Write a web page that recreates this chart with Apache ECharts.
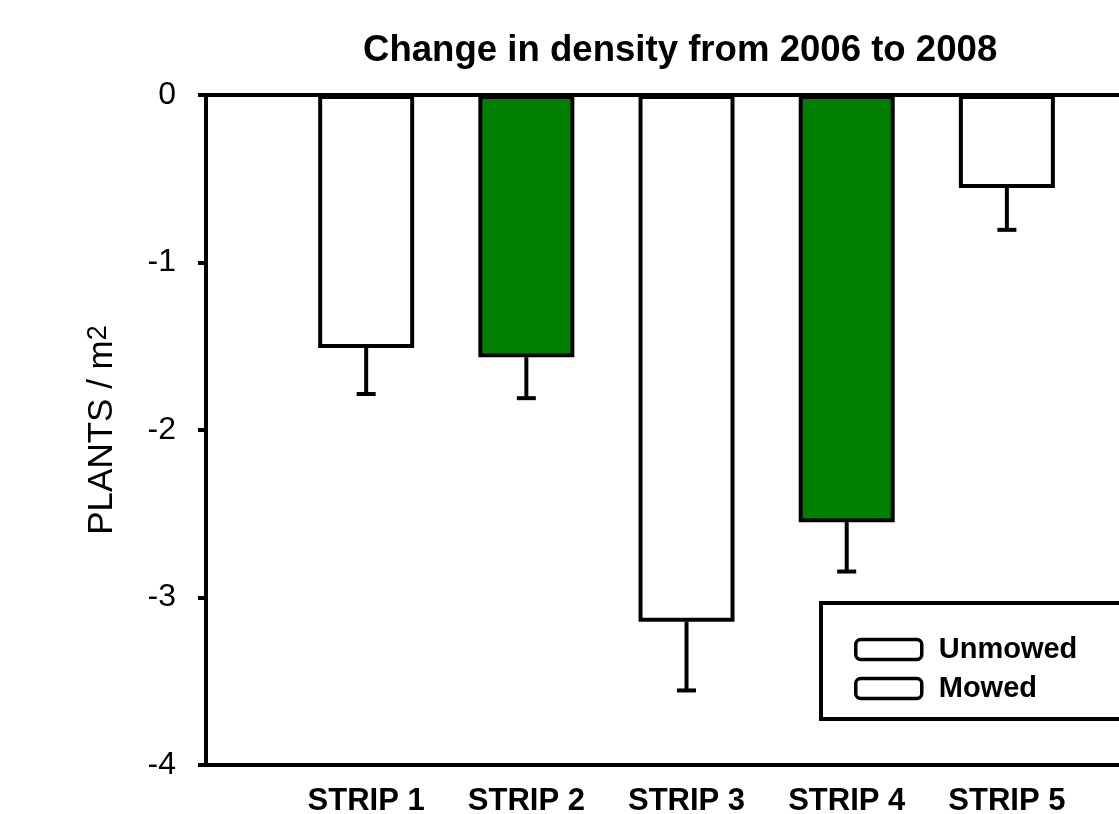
<!DOCTYPE html>
<html>
<head>
<meta charset="utf-8">
<script src="https://cdn.jsdelivr.net/npm/echarts@6/dist/echarts.min.js"></script>
<style>
html,body{margin:0;padding:0;background:#fff;}
#c{width:1119px;height:814px;}
</style>
</head>
<body>
<div id="c"></div>
<script>
const categories = ['STRIP 1', 'STRIP 2', 'STRIP 3', 'STRIP 4', 'STRIP 5'];
const treatment = ['Unmowed', 'Mowed', 'Unmowed', 'Mowed', 'Unmowed'];
const means = [-1.51, -1.565, -3.145, -2.55, -0.555];
const errors = [0.275, 0.245, 0.41, 0.295, 0.25];
const yTicks = [-4, -3, -2, -1, 0];

const FONT = '"Liberation Sans", Arial, sans-serif';

function seriesData(name) {
  const out = [];
  categories.forEach((c, i) => {
    if (treatment[i] === name) out.push([i + 1, means[i]]);
  });
  return out;
}
const errData = categories.map((c, i) => [i + 1, means[i], errors[i]]);

const chart = echarts.init(document.getElementById('c'), null, {renderer: 'canvas'});
chart.setOption({
  animation: false,
  backgroundColor: '#fff',
  title: {
    text: 'Change in density from 2006 to 2008',
    left: 358,
    top: 27,
    textStyle: {fontFamily: FONT, fontSize: 36.6, fontWeight: 'bold', color: '#000'}
  },
  legend: {
    data: ['Unmowed', 'Mowed'],
    orient: 'vertical',
    left: 821,
    top: 603,
    padding: [32, 120, 16, 33],
    itemGap: 10,
    itemWidth: 66,
    itemHeight: 20,
    icon: 'roundRect',
    borderColor: '#000',
    borderWidth: 4,
    backgroundColor: '#fff',
    itemStyle: {color: '#fff', borderColor: '#000', borderWidth: 3.5},
    textStyle: {fontFamily: FONT, fontSize: 29, fontWeight: 'bold', color: '#000', padding: [0, 0, 0, 12]}
  },
  grid: {left: 206, top: 95, right: 0, height: 670, containLabel: false, outerBoundsMode: 'none'},
  xAxis: [{
    type: 'value',
    position: 'bottom',
    min: 0, max: 5.7, interval: 1,
    axisLine: {show: true, onZero: false, lineStyle: {color: '#000', width: 4}},
    axisTick: {show: false},
    splitLine: {show: false},
    axisLabel: {
      margin: 21,
      showMaxLabel: false,
      fontFamily: FONT, fontSize: 31, fontWeight: 'bold', color: '#000',
      formatter: v => (v >= 1 && v <= categories.length && Number.isInteger(v)) ? categories[v - 1] : ''
    }
  }, {
    type: 'value',
    position: 'top',
    min: 0, max: 5.7, interval: 1,
    axisLine: {show: true, onZero: false, lineStyle: {color: '#000', width: 4}},
    axisTick: {show: false},
    splitLine: {show: false},
    axisLabel: {show: false}
  }],
  yAxis: {
    type: 'value',
    min: yTicks[0], max: yTicks[yTicks.length - 1], interval: 1,
    name: 'PLANTS / m{sup|2}',
    nameLocation: 'middle',
    nameGap: 86,
    nameRotate: 90,
    nameTextStyle: {
      fontFamily: FONT, fontSize: 35, color: '#000',
      rich: {sup: {fontFamily: FONT, fontSize: 27, color: '#000', verticalAlign: 'top', lineHeight: 35, padding: [0, 0, 16, 0]}}
    },
    axisLine: {show: true, lineStyle: {color: '#000', width: 4}},
    axisTick: {show: true, length: 8, lineStyle: {color: '#000', width: 4}},
    splitLine: {show: false},
    axisLabel: {margin: 30, fontFamily: FONT, fontSize: 32, color: '#000'}
  },
  series: [{
    name: 'Unmowed',
    type: 'bar',
    data: seriesData('Unmowed'),
    barWidth: 96,
    barGap: '-100%',
    itemStyle: {color: '#fff', borderColor: '#000', borderWidth: 4},
    z: 2
  }, {
    name: 'Mowed',
    type: 'bar',
    data: seriesData('Mowed'),
    barWidth: 96,
    barGap: '-100%',
    itemStyle: {color: '#008000', borderColor: '#000', borderWidth: 4},
    z: 2
  }, {
    name: 'error',
    type: 'custom',
    data: errData,
    z: 3,
    renderItem: function (params, api) {
      const x = api.value(0), m = api.value(1), e = api.value(2);
      const p0 = api.coord([x, m]);
      const p1 = api.coord([x, m - e]);
      const half = 9.5;
      return {
        type: 'group',
        children: [{
          type: 'line',
          shape: {x1: p0[0], y1: p0[1], x2: p1[0], y2: p1[1]},
          style: {stroke: '#000', lineWidth: 4}
        }, {
          type: 'line',
          shape: {x1: p1[0] - half, y1: p1[1], x2: p1[0] + half, y2: p1[1]},
          style: {stroke: '#000', lineWidth: 4}
        }]
      };
    }
  }]
});
</script>
</body>
</html>
